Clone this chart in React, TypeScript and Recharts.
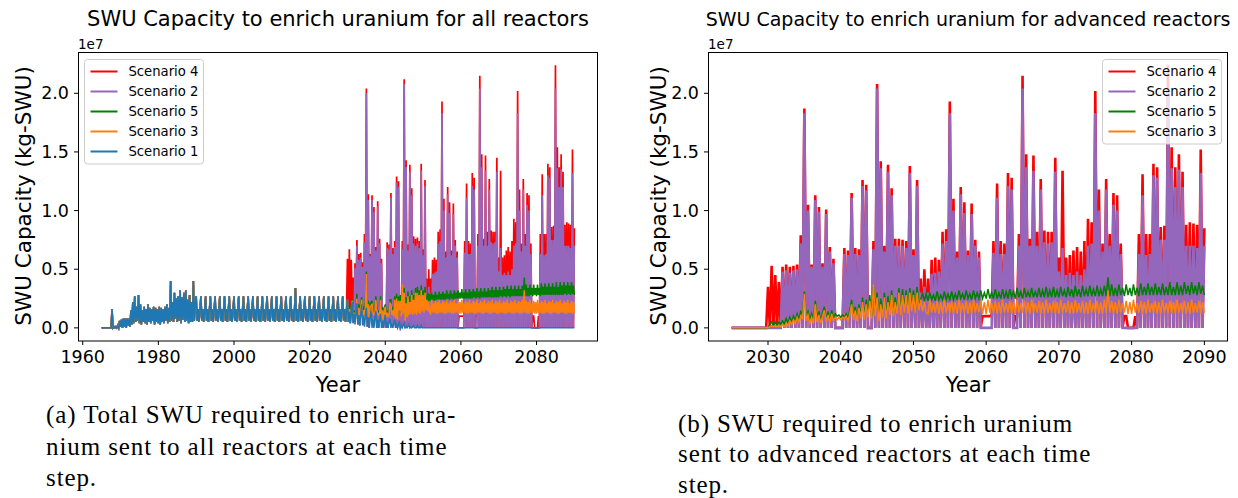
import { LineChart, Line, XAxis, YAxis } from 'recharts'

// all values in units of 1e5 kg-SWU, one value per quarter year

// Scenario 1 / legacy LWR fleet, 1965.00 .. 2050.00 (nothing after 2050)
const LEGACY = [
  0, 0, 0, 0,
  0, 0, 0, 0,
  0, 0, 0, 16,
  0, 1, 0, 1,
  0, 2, 0, 6,
  1, 7, 0, 8,
  1, 8, 0, 8,
  2, 8, 1, 15,
  3, 22, 4, 27,
  5, 18, 6, 28,
  4, 20, 3, 15,
  5, 18, 4, 16,
  3, 20, 5, 17,
  4, 16, 6, 18,
  3, 17, 5, 16,
  4, 18, 3, 17,
  5, 16, 4, 18,
  6, 20, 4, 17,
  5, 40, 6, 22,
  5, 30, 8, 25,
  5, 27, 6, 32,
  4, 26, 7, 30,
  5, 32, 6, 24,
  4, 28, 5, 22,
  5, 40, 6, 20,
  27, 6, 16, 5, // 1990
  15, 27, 6, 16,
  5, 15, 27, 6,
  16, 5, 15, 27,
  6, 16, 5, 15,
  27, 6, 16, 5,
  15, 27, 6, 16,
  5, 15, 27, 6,
  16, 5, 15, 27,
  6, 16, 5, 15,
  27, 6, 16, 5, // 2000
  15, 27, 6, 16,
  5, 15, 27, 6,
  16, 5, 15, 27,
  6, 16, 5, 15,
  27, 6, 16, 5,
  15, 27, 6, 16,
  5, 15, 27, 6,
  16, 5, 15, 27,
  6, 16, 5, 15,
  27, 6, 16, 5, // 2010
  15, 27, 6, 16,
  5, 15, 27, 6,
  16, 5, 15, 27,
  6, 16, 5, 15,
  27, 6, 16, 5,
  15, 34, 6, 16,
  5, 15, 27, 6,
  16, 5, 15, 27,
  6, 16, 5, 15,
  27, 6, 16, 5, // 2020
  15, 27, 6, 16,
  5, 15, 27, 6,
  16, 5, 15, 27,
  6, 16, 5, 15,
  27, 6, 16, 5,
  15, 27, 6, 16,
  5, 15, 27, 6,
  16, 5, 15, 27,
  6, 16, 5, 15,
  24, 5, 14, 4, // 2030
  13, 22, 4, 12,
  3, 12, 21, 3,
  11, 2, 11, 20,
  2, 10, 1, 10,
  17, 1, 9, 0,
  9, 15, 0, 8,
  0, 8, 14, 0,
  7, 0, 7, 12,
  0, 6, 0, 6,
  11, 0, 5, 0, // 2040
  5, 9, 0, 4,
  0, 4, 7, 0,
  3, 0, 3, 6,
  0, 2, 0, 2,
  4, 0, 1, 0,
  1, 3, 0, 1,
  0, 1, 2, 0,
  0, 0, 2, 0,
  0, 0, 2, 0,
  0,
]

// advanced reactors, 2025.00 .. 2090.00
const ADV_S4 = [
  0, 0, 0, 0,
  0, 0, 0, 0,
  0, 0, 0, 0,
  0, 0, 0, 0,
  0, 0, 0, 0,
  35, 0, 53, 0, // 2030
  45, 0, 39, 0,
  52, 0, 54, 0,
  52, 0, 53, 0,
  54, 0, 79, 0,
  187, 0, 105, 0,
  54, 0, 113, 0,
  103, 0, 55, 0,
  101, 0, 69, 0,
  59, 0, 0, 0,
  0, 0, 68, 0, // 2040
  66, 0, 115, 0,
  68, 0, 67, 0,
  126, 0, 122, 0,
  0, 0, 74, 0,
  208, 0, 142, 0,
  70, 0, 139, 0,
  119, 0, 76, 0,
  76, 0, 75, 0,
  74, 0, 138, 0,
  67, 0, 126, 0, // 2050
  42, 0, 50, 0,
  42, 0, 58, 0,
  60, 0, 58, 0,
  82, 0, 84, 0,
  193, 0, 110, 0,
  65, 0, 120, 0,
  107, 0, 66, 0,
  106, 0, 75, 0,
  65, 0, 10, 10,
  10, 10, 10, 10, // 2060
  74, 0, 123, 0,
  74, 0, 72, 0,
  132, 0, 128, 0,
  10, 10, 80, 0,
  215, 0, 148, 0,
  76, 0, 147, 0,
  82, 0, 127, 0,
  83, 0, 82, 0,
  82, 0, 145, 0,
  60, 0, 134, 0, // 2070
  60, 0, 62, 0,
  66, 0, 69, 0,
  65, 0, 74, 0,
  93, 0, 90, 0,
  202, 0, 118, 0,
  72, 0, 127, 0,
  80, 0, 115, 0,
  113, 0, 72, 0,
  10, 10, 0, 0,
  0, 0, 10, 0, // 2080
  80, 0, 131, 0,
  80, 0, 80, 0,
  140, 0, 137, 0,
  86, 0, 87, 0,
  224, 0, 154, 0,
  137, 0, 148, 0,
  133, 0, 88, 0,
  90, 0, 89, 0,
  88, 0, 152, 0,
  85,
]

const ADV_S2 = [
  0, 0, 0, 0,
  0, 0, 0, 0,
  0, 0, 0, 0,
  0, 0, 0, 0,
  0, 0, 0, 0,
  0, 0, 0, 0, // 2030
  0, 0, 0, 0,
  48, 0, 49, 0,
  47, 0, 49, 0,
  50, 0, 72, 0,
  183, 0, 100, 0,
  52, 0, 109, 0,
  99, 0, 52, 0,
  97, 0, 65, 0,
  55, 0, 0, 0,
  0, 0, 63, 0, // 2040
  62, 0, 111, 0,
  63, 0, 62, 0,
  121, 0, 117, 0,
  0, 0, 67, 0,
  204, 0, 136, 0,
  65, 0, 133, 0,
  113, 0, 70, 0,
  70, 0, 70, 0,
  68, 0, 132, 0,
  62, 0, 121, 0, // 2050
  30, 0, 35, 0,
  30, 0, 46, 0,
  47, 0, 48, 0,
  72, 0, 74, 0,
  183, 0, 100, 0,
  60, 0, 114, 0,
  98, 0, 62, 0,
  97, 0, 70, 0,
  60, 0, 0, 0,
  0, 0, 0, 0, // 2060
  64, 0, 111, 0,
  63, 0, 63, 0,
  121, 0, 118, 0,
  0, 0, 70, 0,
  204, 0, 137, 0,
  70, 0, 134, 0,
  70, 0, 118, 0,
  73, 0, 72, 0,
  73, 0, 133, 0,
  48, 0, 68, 0, // 2070
  45, 0, 47, 0,
  45, 0, 48, 0,
  45, 0, 50, 0,
  70, 0, 72, 0,
  183, 0, 100, 0,
  65, 0, 118, 0,
  70, 0, 105, 0,
  100, 0, 63, 0,
  0, 0, 0, 0,
  0, 0, 0, 0, // 2080
  63, 0, 113, 0,
  62, 0, 63, 0,
  130, 0, 128, 0,
  75, 0, 75, 0,
  204, 0, 136, 0,
  120, 0, 135, 0,
  120, 0, 70, 0,
  70, 0, 70, 0,
  68, 0, 132, 0,
  70,
]

const ADV_S5 = [
  0, 0, 0, 0,
  0, 0, 0, 0,
  0, 0, 0, 0,
  0, 0, 0, 0,
  0, 0, 0, 0,
  0, 3, 5, 2, // 2030
  5, 2, 5, 3,
  6, 3, 8, 4,
  9, 5, 10, 6,
  12, 7, 14, 12,
  31, 10, 14, 7,
  12, 6, 23, 8,
  14, 6, 13, 18,
  7, 14, 6, 15,
  8, 12, 10, 11,
  9, 11, 9, 12, // 2040
  8, 15, 24, 9,
  18, 8, 20, 10,
  26, 9, 24, 12,
  28, 10, 35, 14,
  30, 8, 25, 12,
  30, 10, 27, 14,
  32, 12, 26, 15,
  34, 14, 33, 16,
  32, 15, 34, 18,
  32, 16, 35, 20, // 2050
  24, 30, 23, 29,
  23, 30, 24, 28,
  23, 31, 24, 28,
  24, 31, 24, 29,
  24, 31, 24, 29,
  24, 32, 25, 29,
  24, 32, 25, 29,
  24, 32, 25, 30,
  25, 32, 25, 30,
  25, 33, 25, 30, // 2060
  25, 33, 25, 30,
  25, 33, 25, 31,
  25, 33, 26, 31,
  25, 34, 26, 31,
  25, 34, 26, 31,
  26, 34, 26, 31,
  26, 34, 26, 32,
  26, 35, 26, 32,
  26, 35, 26, 32,
  26, 35, 27, 32, // 2070
  26, 35, 27, 33,
  26, 36, 27, 33,
  26, 36, 27, 33,
  27, 36, 27, 33,
  27, 36, 27, 33,
  27, 36, 27, 43,
  27, 37, 27, 34,
  27, 37, 28, 34,
  27, 37, 28, 34,
  27, 37, 28, 34, // 2080
  27, 38, 28, 35,
  28, 38, 28, 35,
  28, 38, 28, 35,
  28, 38, 28, 35,
  28, 39, 28, 35,
  28, 39, 28, 36,
  28, 39, 29, 36,
  28, 39, 29, 36,
  28, 39, 29, 36,
  28,
]

const ADV_S3 = [
  0, 0, 0, 0,
  0, 0, 0, 0,
  0, 0, 0, 0,
  0, 0, 0, 0,
  0, 0, 0, 0,
  0, 1, 2, 1, // 2030
  2, 1, 2, 1,
  3, 1, 4, 2,
  6, 3, 7, 4,
  9, 5, 10, 8,
  29, 6, 11, 4,
  9, 4, 20, 5,
  11, 4, 10, 15,
  5, 11, 4, 12,
  6, 9, 7, 9,
  7, 9, 8, 10, // 2040
  6, 12, 20, 7,
  15, 6, 17, 8,
  22, 7, 20, 9,
  23, 8, 37, 10,
  26, 6, 20, 9,
  26, 8, 22, 11,
  28, 10, 22, 12,
  30, 11, 28, 13,
  28, 12, 30, 14,
  28, 13, 30, 15, // 2050
  24, 14, 22, 13,
  12, 24, 13, 21,
  13, 23, 12, 22,
  12, 24, 13, 21,
  13, 23, 12, 22,
  12, 24, 13, 21,
  13, 23, 12, 22,
  12, 24, 13, 21,
  13, 23, 12, 22,
  12, 24, 13, 21, // 2060
  13, 23, 12, 22,
  12, 24, 13, 21,
  13, 23, 12, 22,
  12, 24, 13, 21,
  13, 23, 12, 22,
  12, 24, 13, 21,
  13, 23, 12, 22,
  12, 24, 13, 21,
  13, 23, 12, 22,
  12, 24, 13, 21, // 2070
  13, 23, 12, 22,
  12, 24, 13, 21,
  13, 23, 12, 22,
  12, 24, 13, 21,
  13, 23, 12, 22,
  12, 24, 13, 32,
  13, 23, 12, 22,
  12, 24, 13, 21,
  13, 23, 12, 22,
  12, 24, 13, 21, // 2080
  13, 23, 12, 22,
  12, 24, 13, 21,
  13, 23, 12, 22,
  12, 24, 13, 21,
  13, 23, 12, 22,
  12, 24, 13, 21,
  13, 23, 12, 22,
  12, 24, 13, 21,
  13, 23, 12, 22,
  13,
]

const LEFT_START = 1965
const ADV_START = 2025
const END_YEAR = 2090
const STEP = 0.25

const Y_TICKS = [0, 50, 100, 150, 200]
const LEFT_X_TICKS = [1960, 1980, 2000, 2020, 2040, 2060, 2080]
const RIGHT_X_TICKS = [2030, 2040, 2050, 2060, 2070, 2080, 2090]

const SERIES = [
  { key: 's4', name: 'Scenario 4', color: '#ff0000', adv: ADV_S4, spiky: true },
  { key: 's2', name: 'Scenario 2', color: '#9467bd', adv: ADV_S2, spiky: true },
  { key: 's5', name: 'Scenario 5', color: '#008000', adv: ADV_S5, spiky: false },
  { key: 's3', name: 'Scenario 3', color: '#ff7f0e', adv: ADV_S3, spiky: false },
]
const S1 = { key: 's1', name: 'Scenario 1', color: '#1f77b4', spiky: false }

// total = legacy fleet + advanced reactors
const leftData = (() => {
  const rows: Record<string, number>[] = []
  const n = Math.round((END_YEAR - LEFT_START) / STEP)
  const advOffset = Math.round((ADV_START - LEFT_START) / STEP)
  for (let j = 0; j <= n; j++) {
    const lwr = j < LEGACY.length ? LEGACY[j] : 0
    const row: Record<string, number> = { year: LEFT_START + j * STEP, s1: lwr }
    for (const s of SERIES) {
      const k = j - advOffset
      row[s.key] = lwr + (k >= 0 && k < s.adv.length ? s.adv[k] : 0)
    }
    rows.push(row)
  }
  return rows
})()

const rightData = ADV_S2.map((_, k) => {
  const row: Record<string, number> = { year: ADV_START + k * STEP }
  for (const s of SERIES) row[s.key] = s.adv[k]
  return row
})

const FONT = 'DejaVu Sans'
const Y_DOMAIN = [-11.2, 235.2]
const tickStyle = { fill: '#000', fontSize: 17.5, fontFamily: FONT }
const fmtY = (v: number) => (v / 100).toFixed(1)

function Panel({ data, lines, xDomain, xTicks, width, yAxisWidth, marginRight, spikyWidth }: any) {
  return (
    <LineChart
      width={width}
      height={400}
      data={data}
      margin={{ top: 52, right: marginRight, bottom: 29, left: 0 }}
    >
      <XAxis
        dataKey="year"
        type="number"
        domain={xDomain}
        ticks={xTicks}
        allowDataOverflow
        axisLine={false}
        tickLine={{ stroke: '#000' }}
        tickSize={4}
        tickMargin={6}
        height={30}
        tick={tickStyle}
      />
      <YAxis
        type="number"
        domain={Y_DOMAIN}
        ticks={Y_TICKS}
        allowDataOverflow
        axisLine={false}
        tickLine={{ stroke: '#000' }}
        tickSize={4}
        tickMargin={5}
        width={yAxisWidth}
        tick={tickStyle}
        tickFormatter={fmtY}
      />
      {lines.map((s: any) => (
        <Line
          key={s.key}
          type="linear"
          dataKey={s.key}
          stroke={s.color}
          strokeWidth={s.spiky ? spikyWidth : 1.5}
          strokeLinejoin="miter"
          dot={false}
          isAnimationActive={false}
        />
      ))}
    </LineChart>
  )
}

function LegendBox({ x, items }: { x: number; items: { name: string; color: string }[] }) {
  const top = 59.5
  const h = items.length * 20 + 4.5
  return (
    <g>
      <rect x={x} y={top} width={119} height={h} rx={3} fill="#fff" fillOpacity={0.8} stroke="#cccccc" />
      {items.map((it, i) => {
        const cy = top + 12 + i * 20
        return (
          <g key={it.name}>
            <line x1={x + 6} x2={x + 33} y1={cy} y2={cy} stroke={it.color} strokeWidth={2} />
            <text x={x + 44} y={cy + 4.7} fontSize={13.2} fontFamily={FONT} fill="#000">
              {it.name}
            </text>
          </g>
        )
      })}
    </g>
  )
}

const captionStyle = { fontFamily: 'Liberation Serif', fontSize: 25, letterSpacing: 0.9, fill: '#000' }

export default function App() {
  const leftLines = [...SERIES, S1]
  return (
    <div style={{ position: 'absolute', left: 0, top: 0, width: 1238, height: 498, background: '#fff', overflow: 'hidden' }}>
      <div style={{ position: 'absolute', left: 0, top: 0 }}>
        <Panel
          data={leftData}
          lines={leftLines}
          xDomain={[1958.75, 2096.25]}
          xTicks={LEFT_X_TICKS}
          width={620}
          yAxisWidth={78}
          marginRight={22}
          spikyWidth={1.7}
        />
      </div>
      <div style={{ position: 'absolute', left: 620, top: 0 }}>
        <Panel
          data={rightData}
          lines={SERIES}
          xDomain={[2021.75, 2093.25]}
          xTicks={RIGHT_X_TICKS}
          width={618}
          yAxisWidth={88}
          marginRight={10}
          spikyWidth={2.6}
        />
      </div>
      <svg width={1238} height={498} style={{ position: 'absolute', left: 0, top: 0, pointerEvents: 'none' }}>
        <rect x={78.5} y={52.5} width={519} height={288.5} fill="none" stroke="#000" />
        <rect x={708.5} y={52.5} width={519} height={288.5} fill="none" stroke="#000" />

        <text x={338} y={26} textAnchor="middle" fontSize={21} fontFamily={FONT} fill="#000">
          SWU Capacity to enrich uranium for all reactors
        </text>
        <text x={968} y={26} textAnchor="middle" fontSize={19} fontFamily={FONT} fill="#000">
          SWU Capacity to enrich uranium for advanced reactors
        </text>

        <text x={78} y={49} fontSize={13.5} fontFamily={FONT} fill="#000">1e7</text>
        <text x={708} y={49} fontSize={13.5} fontFamily={FONT} fill="#000">1e7</text>

        <text transform="translate(31,196) rotate(-90)" textAnchor="middle" fontSize={21.5} fontFamily={FONT} fill="#000">
          SWU Capacity (kg-SWU)
        </text>
        <text transform="translate(666,196) rotate(-90)" textAnchor="middle" fontSize={21.5} fontFamily={FONT} fill="#000">
          SWU Capacity (kg-SWU)
        </text>
        <text x={338} y={392} textAnchor="middle" fontSize={21} fontFamily={FONT} fill="#000">Year</text>
        <text x={968} y={392} textAnchor="middle" fontSize={21} fontFamily={FONT} fill="#000">Year</text>

        <LegendBox x={84.5} items={leftLines} />
        <LegendBox x={1102.5} items={SERIES} />

        <text x={46} y={423} style={captionStyle}>(a) Total SWU required to enrich ura-</text>
        <text x={46} y={454.5} style={captionStyle}>nium sent to all reactors at each time</text>
        <text x={46} y={486} style={captionStyle}>step.</text>
        <text x={678} y={431.5} style={captionStyle}>(b) SWU required to enrich uranium</text>
        <text x={678} y={462} style={captionStyle}>sent to advanced reactors at each time</text>
        <text x={678} y={492.5} style={captionStyle}>step.</text>
      </svg>
    </div>
  )
}
